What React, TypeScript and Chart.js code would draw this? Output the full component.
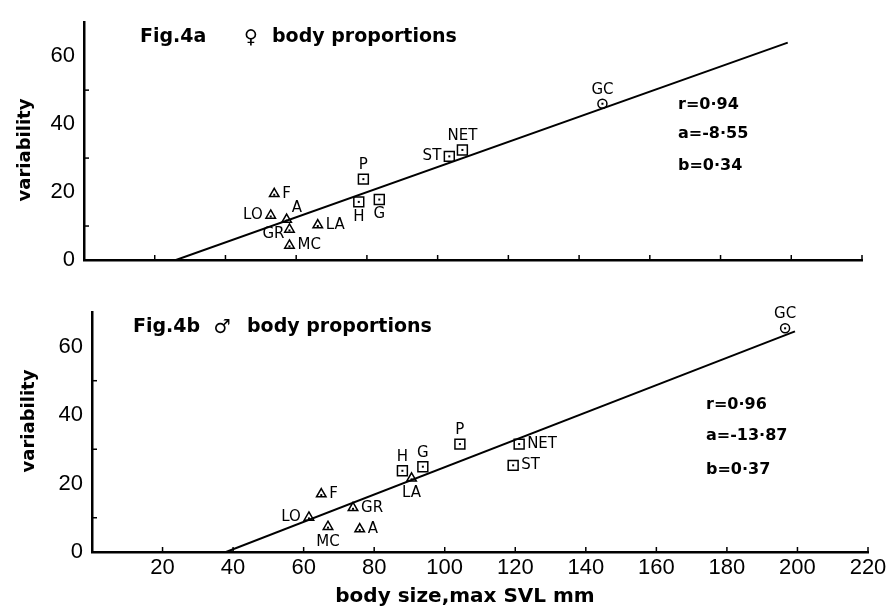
import React, { useEffect, useRef } from 'react';
import { Chart, registerables } from 'chart.js';

Chart.register(...registerables);

// ---------- Data: Fig.4a (female) ----------
const femaleNames = ['F', 'LO', 'A', 'GR', 'MC', 'LA', 'P', 'H', 'G', 'ST', 'NET', 'GC'];
const femaleSize = [53.8, 52.8, 57.3, 58.1, 58.1, 66.1, 79.0, 77.7, 83.5, 103.3, 107.0, 146.6];
const femaleVariability = [19.5, 13.1, 11.9, 9.0, 4.3, 10.3, 23.8, 17.1, 17.8, 30.5, 32.4, 46.0];
const femaleShape = ['tri', 'tri', 'tri', 'tri', 'tri', 'tri', 'sq', 'sq', 'sq', 'sq', 'sq', 'circ'];
const femaleLabelSide = ['r', 'l', 'tr', 'bl', 'r', 'r', 't', 'b', 'b', 'l', 't', 't'];
const femaleFitX = [26, 199];
const femaleFitY = [0, 64];
const femaleStats = ['r=0·94', 'a=-8·55', 'b=0·34'];

// ---------- Data: Fig.4b (male) ----------
const maleNames = ['F', 'LO', 'MC', 'GR', 'A', 'H', 'LA', 'G', 'P', 'NET', 'ST', 'GC'];
const maleSize = [65.0, 61.5, 66.9, 74.0, 75.9, 88.0, 90.6, 93.8, 104.3, 121.1, 119.4, 196.5];
const maleVariability = [16.9, 10.1, 7.4, 12.9, 6.7, 23.7, 21.5, 24.9, 31.5, 31.5, 25.3, 65.3];
const maleShape = ['tri', 'tri', 'tri', 'tri', 'tri', 'sq', 'tri', 'sq', 'sq', 'sq', 'sq', 'circ'];
const maleLabelSide = ['r', 'l', 'b', 'r', 'r', 't', 'b', 't', 't', 'r', 'r', 't'];
const maleFitX = [38, 199.3];
const maleFitY = [0, 64.4];
const maleStats = ['r=0·96', 'a=-13·87', 'b=0·37'];

// ---------- Axis ticks ----------
const xTickValues = [20, 40, 60, 80, 100, 120, 140, 160, 180, 200, 220];
const yLabelValues = [0, 20, 40, 60];
const yMinorTicks = [10, 30, 50];

const FONT = 'DejaVu Sans';

type Panel = {
  names: string[];
  size: number[];
  vari: number[];
  shape: string[];
  side: string[];
  fitX: number[];
  fitY: number[];
  stats: string[];
  statsLeft: number;
  statsY: number[];
  figLabel: string;
  figLeft: number;
  symbol: string;
  symbolX: number;
  bodyLeft: number;
  titleY: number;
  yTitleX: number;
  yTitleY: number;
  xTitle?: string;
  xTitleX?: number;
  xTitleY?: number;
  showX: boolean;
  padTop: number;
  padRight: number;
  yAxisW: number;
  xAxisH: number;
};

const topPanel: Panel = {
  names: femaleNames, size: femaleSize, vari: femaleVariability, shape: femaleShape,
  side: femaleLabelSide, fitX: femaleFitX, fitY: femaleFitY, stats: femaleStats,
  statsLeft: 678, statsY: [105, 134, 166],
  figLabel: 'Fig.4a', figLeft: 140, symbol: '♀', symbolX: 251, bodyLeft: 272, titleY: 37,
  yTitleX: 25, yTitleY: 150,
  showX: false, padTop: 15, padRight: 31, yAxisW: 84, xAxisH: 30,
};

const bottomPanel: Panel = {
  names: maleNames, size: maleSize, vari: maleVariability, shape: maleShape,
  side: maleLabelSide, fitX: maleFitX, fitY: maleFitY, stats: maleStats,
  statsLeft: 706, statsY: [115, 146, 180],
  figLabel: 'Fig.4b', figLeft: 133, symbol: '♂', symbolX: 222, bodyLeft: 247, titleY: 37,
  yTitleX: 29, yTitleY: 131,
  xTitle: 'body size,max SVL mm', xTitleX: 465, xTitleY: 307,
  showX: true, padTop: 15, padRight: 25, yAxisW: 92, xAxisH: 56,
};

function makeAnnotator(p: Panel) {
  return {
    id: 'annotator',
    afterDatasetsDraw(chart: any) {
      const { ctx } = chart;
      const x = chart.scales.x;
      const y = chart.scales.y;
      ctx.save();
      ctx.strokeStyle = '#000';
      ctx.fillStyle = '#000';
      // inward ticks
      ctx.lineWidth = 1.5;
      for (const v of xTickValues) {
        const px = x.getPixelForValue(v);
        ctx.beginPath();
        ctx.moveTo(px, y.bottom);
        ctx.lineTo(px, y.bottom - 5);
        ctx.stroke();
      }
      for (const v of yMinorTicks) {
        const py = y.getPixelForValue(v);
        ctx.beginPath();
        ctx.moveTo(x.left, py);
        ctx.lineTo(x.left + 5, py);
        ctx.stroke();
      }
      // center dots and point labels
      ctx.font = `15px "${FONT}"`;
      ctx.textBaseline = 'middle';
      p.names.forEach((name, i) => {
        const px = x.getPixelForValue(p.size[i]);
        const py = y.getPixelForValue(p.vari[i]);
        const dy = p.shape[i] === 'tri' ? 1 : 0;
        ctx.fillRect(px - 1, py - 1 + dy, 2, 2);
        let tx = px, ty = py, align: CanvasTextAlign = 'center';
        switch (p.side[i]) {
          case 'r': tx = px + 8; align = 'left'; break;
          case 'l': tx = px - 8; align = 'right'; break;
          case 't': ty = py - 14; break;
          case 'b': ty = py + 15; break;
          case 'tr': tx = px + 5; ty = py - 11; align = 'left'; break;
          case 'bl': tx = px - 5; ty = py + 5; align = 'right'; break;
        }
        ctx.textAlign = align;
        ctx.fillText(name, tx, ty);
      });
      // stats text
      ctx.font = `bold 16px "${FONT}"`;
      ctx.textAlign = 'left';
      p.stats.forEach((s, i) => ctx.fillText(s, p.statsLeft, p.statsY[i]));
      // panel title
      ctx.font = `bold 19px "${FONT}"`;
      ctx.fillText(p.figLabel, p.figLeft, p.titleY);
      ctx.textAlign = 'center';
      ctx.fillText(p.symbol, p.symbolX, p.titleY + 1);
      ctx.textAlign = 'left';
      ctx.fillText('body proportions', p.bodyLeft, p.titleY);
      // y title
      ctx.font = `bold 18px "${FONT}"`;
      ctx.save();
      ctx.translate(p.yTitleX, p.yTitleY);
      ctx.rotate(-Math.PI / 2);
      ctx.textAlign = 'center';
      ctx.fillText('variability', 0, 0);
      ctx.restore();
      // x title
      if (p.xTitle) {
        ctx.font = `bold 20px "${FONT}"`;
        ctx.textAlign = 'center';
        ctx.fillText(p.xTitle, p.xTitleX, p.xTitleY);
      }
      ctx.restore();
    },
  };
}

function buildConfig(p: Panel): any {
  const pts = p.names.map((n, i) => ({ x: p.size[i], y: p.vari[i], shape: p.shape[i] }));
  const mk = (shape: string, style: string, radius: number) => ({
    type: 'scatter',
    data: pts.filter((q) => q.shape === shape).map((q) => ({ x: q.x, y: q.y })),
    pointStyle: style,
    pointRadius: radius,
    pointBorderColor: '#000',
    pointBackgroundColor: 'rgba(255,255,255,0)',
    pointBorderWidth: 1.5,
    showLine: false,
  });
  const gridOpts = { display: true, drawOnChartArea: false, drawTicks: false };
  const borderOpts = { display: true, color: '#000', width: 2.5 };
  return {
    type: 'scatter',
    data: {
      datasets: [
        {
          type: 'line',
          data: p.fitX.map((xv, i) => ({ x: xv, y: p.fitY[i] })),
          borderColor: '#000',
          borderWidth: 2,
          pointRadius: 0,
          fill: false,
          tension: 0,
        },
        mk('tri', 'triangle', 5.5),
        mk('sq', 'rect', 7),
        mk('circ', 'circle', 4.5),
      ],
    },
    options: {
      animation: false,
      responsive: true,
      maintainAspectRatio: false,
      layout: { padding: { top: p.padTop, right: p.padRight, left: 0, bottom: 0 } },
      plugins: { legend: { display: false }, tooltip: { enabled: false }, title: { display: false } },
      scales: {
        x: {
          type: 'linear',
          min: 0,
          max: 220,
          position: 'bottom',
          afterFit: (s: any) => { s.height = p.xAxisH; },
          grid: gridOpts,
          border: borderOpts,
          ticks: {
            display: p.showX,
            stepSize: 20,
            padding: 3,
            color: '#000',
            autoSkip: false,
            maxRotation: 0,
            font: { family: 'Liberation Sans', size: 22 },
            callback: (v: number) => (xTickValues.includes(v) ? String(v) : ''),
          },
        },
        y: {
          type: 'linear',
          min: 0,
          max: 70,
          afterFit: (s: any) => { s.width = p.yAxisW; },
          grid: gridOpts,
          border: borderOpts,
          ticks: {
            stepSize: 10,
            padding: 9,
            color: '#000',
            autoSkip: false,
            font: { family: 'Liberation Sans', size: 22 },
            callback: (v: number) => (yLabelValues.includes(v) ? String(v) : ''),
          },
        },
      },
    },
    plugins: [makeAnnotator(p)],
  };
}

export default function App() {
  const topRef = useRef<HTMLCanvasElement>(null);
  const botRef = useRef<HTMLCanvasElement>(null);
  useEffect(() => {
    const c1 = new Chart(topRef.current as HTMLCanvasElement, buildConfig(topPanel));
    const c2 = new Chart(botRef.current as HTMLCanvasElement, buildConfig(bottomPanel));
    return () => {
      c1.destroy();
      c2.destroy();
    };
  }, []);
  return (
    <div style={{ position: 'fixed', left: 0, top: 0, width: 893, height: 608, background: '#fff' }}>
      <div style={{ position: 'absolute', left: 0, top: 0, width: 893, height: 290 }}>
        <canvas ref={topRef} />
      </div>
      <div style={{ position: 'absolute', left: 0, top: 290, width: 893, height: 318 }}>
        <canvas ref={botRef} />
      </div>
    </div>
  );
}
